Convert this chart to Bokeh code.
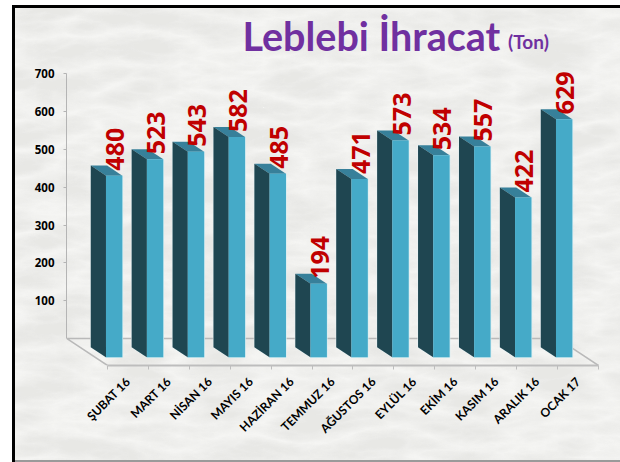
from urllib.parse import quote
from bokeh.plotting import figure
from bokeh.models import Range1d, FixedTicker
from bokeh.core.properties import value
from bokeh.embed import file_html
from bokeh.resources import INLINE

months = ["ŞUBAT 16", "MART 16", "NİSAN 16", "MAYIS 16", "HAZİRAN 16", "TEMMUZ 16",
          "AĞUSTOS 16", "EYLÜL 16", "EKİM 16", "KASIM 16", "ARALIK 16", "OCAK 17"]
tons = [480, 523, 543, 582, 485, 194, 471, 573, 534, 557, 422, 629]
y_ticks = [100, 200, 300, 400, 500, 600, 700]
title_main = "Leblebi İhracat"
title_unit = "(Ton)"

FONT = "Lato"
DEPTH_Y = 71.4      # value units for a full floor depth
FRONT = 0.307       # floor depth of the bars' front faces
BACK = 0.678        # floor depth of the bars' back faces
BAR_W = 0.40
BAR_C = 0.47        # bar centre within its slot


def project(i, v, d):
    """Oblique projection: slot position, value, depth on the floor -> plot coordinates."""
    return i - d, v + (d - 1) * DEPTH_Y


svg = ("<svg xmlns='http://www.w3.org/2000/svg' width='606' height='453'>"
       "<filter id='m' x='0' y='0' width='100%' height='100%'>"
       "<feTurbulence type='turbulence' baseFrequency='0.012 0.035' numOctaves='6' seed='11'/>"
       "<feColorMatrix type='matrix' values='0 0 0 0 0.78  0 0 0 0 0.78  0 0 0 0 0.76  1.8 0 0 0 -0.10'/>"
       "</filter>"
       "<rect width='606' height='453' fill='#f5f5f3'/>"
       "<rect width='606' height='453' filter='url(#m)' opacity='0.8'/></svg>")
black = "linear-gradient(#000,#000)"
grey = "linear-gradient(#9a9a9a,#9a9a9a)"
page_styles = {
    "background-color": "#ffffff",
    "background-image": f"{black},{black},{grey},url(\"data:image/svg+xml,{quote(svg)}\")",
    "background-size": "3px 456px,608px 3px,606px 2px,606px 453px",
    "background-position": "12px 6px,12px 5px,15px 460px,14px 8px",
    "background-repeat": "no-repeat",
}

p = figure(width=620, height=462, output_backend="svg", toolbar_location=None,
           x_range=Range1d(-1.002, 12.54), y_range=Range1d(-71.4, 893.5),
           min_border_left=66, min_border_right=0, min_border_top=0, min_border_bottom=97,
           margin=0, styles=page_styles,
           background_fill_alpha=0, border_fill_alpha=0, outline_line_color=None)
p.grid.visible = False

# Y axis
ya = p.yaxis[0]
ya.ticker = FixedTicker(ticks=y_ticks)
ya.bounds = (0, 700)
ya.axis_line_color = "#b4b4b4"
ya.major_tick_line_color = "#b4b4b4"
ya.major_tick_in = 0
ya.major_tick_out = 3
ya.minor_tick_line_color = None
ya.major_label_text_font = "Open Sans"
ya.major_label_text_font_style = "bold"
ya.major_label_text_font_size = "11.5px"
ya.major_label_text_color = "#000000"
ya.major_label_standoff = 9

# X axis: labels centred on slots, tick marks on slot edges
n = len(months)
xa = p.xaxis[0]
xa.ticker = FixedTicker(ticks=[i + 0.5 for i in range(n)], minor_ticks=list(range(n + 1)))
xa.major_label_overrides = {i + 0.5: m for i, m in enumerate(months)}
xa.bounds = (0, n)
xa.axis_line_color = "#bdbdbd"
xa.axis_line_width = 2
xa.major_tick_line_color = None
xa.minor_tick_line_color = "#bdbdbd"
xa.minor_tick_in = 0
xa.minor_tick_out = 4
xa.major_label_orientation = 0.785
xa.major_label_text_font = FONT
xa.major_label_text_font_style = "bold"
xa.major_label_text_font_size = "12px"
xa.major_label_text_color = "#000000"
xa.major_label_standoff = 8

# Floor outline
fx, fy = zip(*[project(n, 0, 0), project(n, 0, 1), project(0, 0, 1), project(0, 0, 0)])
p.line(list(fx), list(fy), line_color="#b9b9b9", line_width=1.5)

# 3D bars
side_x, side_y, front_x, front_y, top_x, top_y = [], [], [], [], [], []
for i, v in enumerate(tons):
    x0 = i + BAR_C - BAR_W / 2
    x1 = i + BAR_C + BAR_W / 2
    a = project(x0, 0, FRONT)
    b = project(x1, 0, FRONT)
    c = project(x1, v, FRONT)
    e = project(x0, v, FRONT)
    f = project(x0, v, BACK)
    g = project(x1, v, BACK)
    h = project(x0, 0, BACK)
    side_x.append([h[0], a[0], e[0], f[0]])
    side_y.append([h[1], a[1], e[1], f[1]])
    front_x.append([a[0], b[0], c[0], e[0]])
    front_y.append([a[1], b[1], c[1], e[1]])
    top_x.append([f[0], e[0], c[0], g[0]])
    top_y.append([f[1], e[1], c[1], g[1]])

p.patches(side_x, side_y, fill_color="#1f4651", line_color="#e8f4f6", line_alpha=0.7, line_width=1.5)
p.patches(front_x, front_y, fill_color="#45aac8", line_color="#d4edf3", line_alpha=0.9, line_width=1.5)
p.patches(top_x, top_y, fill_color="#37809a", line_color=None)
p.patches(side_x, side_y, fill_color="#1f4651", line_color=None)
p.patches(front_x, front_y, fill_color="#45aac8", line_color=None)

# Value labels
lx = [project(i + BAR_C, v, FRONT)[0] for i, v in enumerate(tons)]
ly = [project(i + BAR_C, v, FRONT)[1] for i, v in enumerate(tons)]
p.text(lx, ly, text=[str(v) for v in tons], angle=90, angle_units="deg",
       x_offset=1, y_offset=-5, text_align="left", text_baseline="middle",
       text_color="#c00000", text_font=value("Open Sans"), text_font_style="bold", text_font_size="25px")

# Title
p.text([6.45], [802], text=[title_main], text_align="center", text_baseline="alphabetic",
       text_color="#7030a0", text_font=value(FONT), text_font_style="bold", text_font_size="39.5px")
p.text([9.79], [784], text=[title_unit], text_align="left", text_baseline="alphabetic",
       text_color="#7030a0", text_font=value(FONT), text_font_style="bold", text_font_size="19px")

open("out.html", "w").write(file_html(p, INLINE))
